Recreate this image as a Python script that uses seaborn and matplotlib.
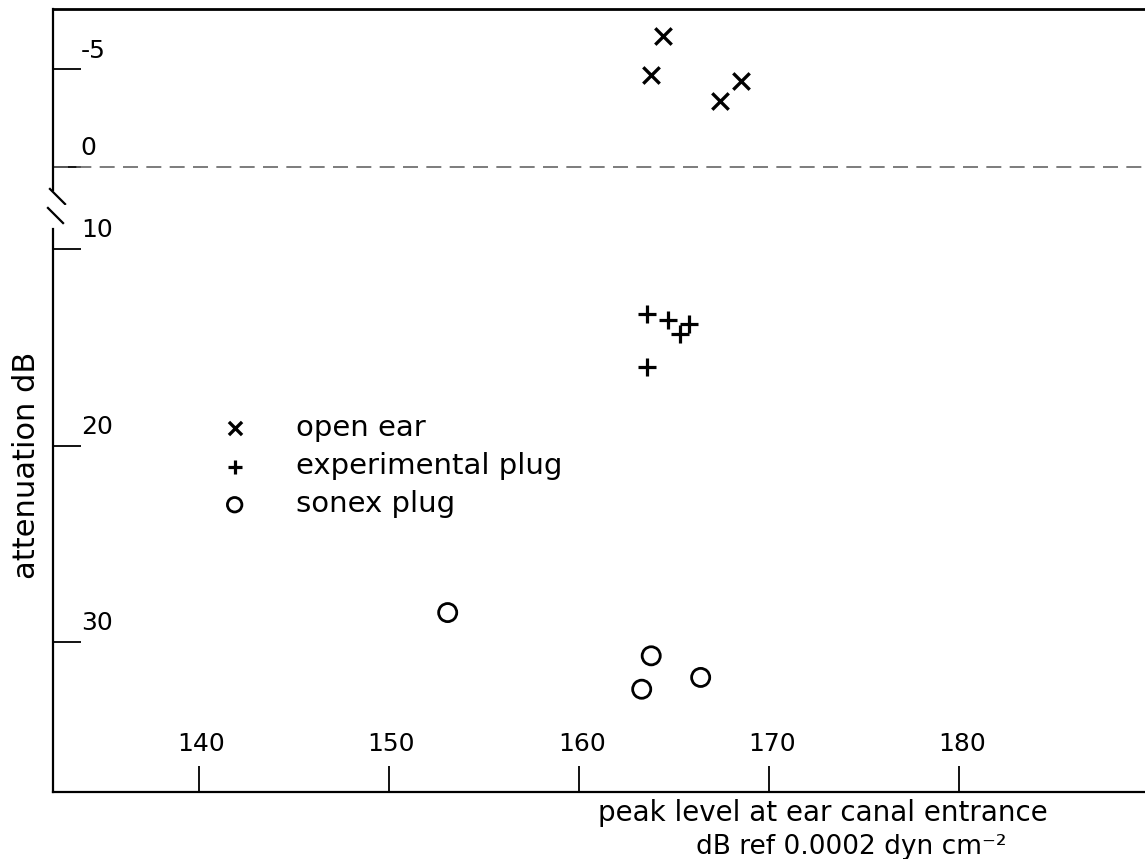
import numpy as np
import pandas as pd
import seaborn as sns
import matplotlib.pyplot as plt
from matplotlib.transforms import offset_copy

# values
open_x = [164.4, 163.8, 167.4, 168.5]
open_y = [-6.7, -4.7, -3.4, -4.4]
exp_x = [163.6, 164.7, 165.3, 165.8, 163.6]
exp_y = [13.3, 13.6, 14.3, 13.8, 16.0]
sonex_x = [153.1, 163.8, 163.3, 166.4]
sonex_y = [28.5, 30.7, 32.4, 31.8]

x_ticks = [140, 150, 160, 170, 180]
top_ticks = [-5, 0]
bottom_ticks = [10, 20, 30]

groups = ["open ear", "experimental plug", "sonex plug"]

df = pd.DataFrame({
    "level": open_x + exp_x + sonex_x,
    "atten": open_y + exp_y + sonex_y,
    "group": [groups[0]] * len(open_x) + [groups[1]] * len(exp_x) + [groups[2]] * len(sonex_x),
})

sns.set_theme(style="white")
plt.rcParams["font.family"] = ["DejaVu Sans"]
plt.rcParams["text.color"] = "black"

W, H = 1145, 859
fig = plt.figure(figsize=(W / 100, H / 100), dpi=100)
left, right = 53 / W, 1.0
top_y, split_y, bot_y = 1 - 9 / H, 1 - 205 / H, 1 - 792 / H
ax_top = fig.add_axes([left, split_y, right - left, top_y - split_y])
ax_bot = fig.add_axes([left, bot_y, right - left, split_y - bot_y])

styles = {
    "open ear": dict(marker="x", s=140, color="black", linewidth=2.4),
    "experimental plug": dict(marker="+", s=170, color="black", linewidth=2.3),
    "sonex plug": dict(marker="o", s=170, facecolor="none", edgecolor="black", linewidth=2.0),
}

for ax in (ax_top, ax_bot):
    for g in groups:
        sub = df[df["group"] == g]
        sns.scatterplot(data=sub, x="level", y="atten", ax=ax, label=g,
                        legend=False, clip_on=True, **styles[g])
    ax.set_xlim(132.35, 189.76)
    ax.set_xlabel("")
    ax.set_ylabel("")
    ax.spines["right"].set_visible(False)
    for sp in ax.spines.values():
        sp.set_color("black")
        sp.set_linewidth(1.6)

ax_top.set_ylim(1.95, -8.1)
ax_bot.set_ylim(37.63, 7.76)

ax_top.spines["bottom"].set_visible(False)
ax_bot.spines["top"].set_visible(False)
ax_top.spines["top"].set_linewidth(2.0)

# gap in the left spine for the axis break
ax_top.spines["left"].set_bounds(1.2, -8.1)
ax_bot.spines["left"].set_bounds(9.0, 37.63)

# dashed zero line
ax_top.axhline(0, color="0.4", lw=1.2, ls=(0, (9, 5)), zorder=1)

# ticks
ax_top.set_xticks([])
ax_top.set_yticks(top_ticks)
ax_bot.set_yticks(bottom_ticks)
ax_bot.set_xticks(x_ticks)
for ax in (ax_top, ax_bot):
    ax.tick_params(axis="y", direction="in", length=20, width=1.3, color="black",
                   left=True, labelleft=False)
ax_bot.tick_params(axis="x", direction="in", length=19, width=1.3, color="black",
                   bottom=True, labelbottom=False)

# tick labels inside the frame, above/right of the tick marks
for ax, ticks in ((ax_top, top_ticks), (ax_bot, bottom_ticks)):
    tr = offset_copy(ax.get_yaxis_transform(), fig=fig, x=20, y=5, units="points")
    for t in ticks:
        ax.text(0, t, "-5" if t < 0 else str(t), transform=tr, ha="left", va="bottom",
                fontsize=18, color="black")
trx = offset_copy(ax_bot.get_xaxis_transform(), fig=fig, x=2, y=26, units="points")
for t in x_ticks:
    ax_bot.text(t, 0, str(t), transform=trx, ha="center", va="bottom",
                fontsize=18, color="black")

# break marks
kw = dict(marker=[(-1, 1), (1, -1)], markersize=12, linestyle="none",
          color="black", mec="black", mew=1.6, clip_on=False)
ax_top.plot([0.0037], [0.046], transform=ax_top.transAxes, **kw)
ax_bot.plot([0.0018], [0.983], transform=ax_bot.transAxes, **kw)

# legend
handles, labels = ax_bot.get_legend_handles_labels()
leg = ax_bot.legend(handles, labels, loc="upper left", bbox_to_anchor=(0.153, 0.644),
                    frameon=False, fontsize=21, handlelength=1.0, handletextpad=1.6,
                    labelspacing=0.35, borderpad=0, borderaxespad=0, markerscale=0.8)
for txt in leg.get_texts():
    txt.set_color("black")

# axis labels
fig.text(27 / W, 1 - 465 / H, "attenuation dB", rotation=90, ha="center", va="center",
         fontsize=22, color="black")
fig.text(823 / W, 1 - 821 / H, "peak level at ear canal entrance", ha="center",
         va="baseline", fontsize=20, color="black")
fig.text(851 / W, 1 - 854 / H, "dB ref 0.0002 dyn cm\u207b\u00b2", ha="center",
         va="baseline", fontsize=19, color="black")

fig.savefig("out.png", dpi=100, facecolor="white")
